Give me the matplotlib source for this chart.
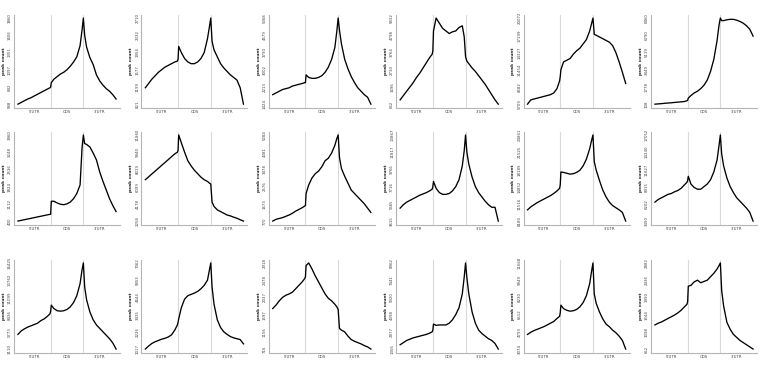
import numpy as np
import matplotlib
matplotlib.use("Agg")
import matplotlib.pyplot as plt

# relative position along the transcript (5'UTR 0-100, CDS 100-200, 3'UTR 200-300)
positions = [0, 10, 20, 30, 40, 50, 60, 70, 80, 90, 98, 100, 102, 110, 120, 130, 140,
             150, 160, 170, 180, 190, 196, 200, 204, 210, 220, 230, 240, 250, 260,
             270, 280, 290, 300]
regions = ["5'UTR", "CDS", "3'UTR"]
region_centers = [50, 150, 250]
region_bounds = [100, 200]

s01 = [588, 613, 639, 664, 683, 709, 734, 760, 785, 811, 830, 842, 906, 957, 995, 1033, 1059,
       1097, 1148, 1211, 1288, 1453, 1682, 1860, 1606, 1428, 1275, 1173, 1020, 931, 868,
       817, 779, 728, 664]
s02 = [1180, 1274, 1369, 1444, 1520, 1577, 1633, 1671, 1709, 1747, 1766, 1803, 2087, 1954, 1822,
       1747, 1709, 1709, 1747, 1822, 1954, 2257, 2521, 2710, 2200, 2011, 1860, 1709, 1614,
       1539, 1463, 1407, 1350, 1180, 821]
s03 = [1858, 1937, 2016, 2094, 2134, 2173, 2252, 2292, 2331, 2371, 2410, 2410, 2765, 2647, 2607,
       2607, 2647, 2726, 2883, 3120, 3475, 4027, 4776, 5368, 4816, 4185, 3475, 3041, 2686,
       2410, 2173, 2016, 1858, 1740, 1424]
s04 = [921, 1179, 1438, 1696, 1955, 2265, 2523, 2833, 3144, 3454, 3661, 3867, 5057, 5832, 5522,
       5212, 5057, 4901, 5005, 5057, 5263, 5367, 4695, 3506, 3247, 3092, 2833, 2627, 2368,
       2110, 1851, 1541, 1231, 921, 662]
s05 = [5709, 6427, 6571, 6714, 6858, 7002, 7145, 7289, 7576, 8294, 9587, 10305, 11454, 12747,
       13034, 13321, 14040, 14614, 15045, 15763, 16481, 17918, 19210, 20072, 17343, 17199,
       16912, 16625, 16338, 16050, 15476, 14327, 12747, 11023, 9156]
s06 = [108, 133, 158, 192, 217, 242, 275, 300, 334, 359, 442, 484, 693, 943, 1194, 1361, 1611,
       1945, 2447, 3282, 4451, 6288, 7792, 8460, 8209, 8209, 8293, 8335, 8335, 8251, 8126,
       7959, 7708, 7374, 6706]
s07 = [400, 428, 457, 485, 514, 542, 571, 599, 628, 656, 678, 685, 1219, 1219, 1148, 1094, 1076,
       1112, 1183, 1326, 1539, 1895, 3426, 3960, 3604, 3568, 3462, 3212, 2928, 2429, 2038,
       1682, 1326, 1041, 792]
s08 = [6867, 7184, 7510, 7827, 8144, 8470, 8787, 9104, 9431, 9748, 9940, 10132, 11860, 10996,
       9940, 8979, 8403, 7923, 7539, 7155, 6867, 6675, 6483, 6387, 4370, 3890, 3506, 3314,
       3122, 2930, 2834, 2690, 2575, 2402, 2258]
s09 = [770, 860, 905, 951, 1018, 1086, 1176, 1289, 1379, 1470, 1560, 1583, 2214, 2666, 3027,
       3253, 3388, 3614, 3930, 4065, 4336, 4742, 5103, 5284, 4110, 3524, 3117, 2756, 2395,
       2214, 2034, 1853, 1673, 1447, 1221]
s10 = [5153, 5563, 5870, 6075, 6281, 6486, 6691, 6844, 6998, 7203, 7408, 7716, 8331, 7511, 6998,
       6793, 6793, 6896, 7203, 7716, 8536, 10176, 12022, 13867, 11817, 10381, 8844, 7716,
       6998, 6486, 5973, 5563, 5255, 5255, 3615]
s11 = [10349, 10932, 11349, 11766, 12100, 12434, 12767, 13101, 13518, 14018, 14519, 15186,
       17688, 17605, 17438, 17271, 17355, 17605, 18022, 18856, 20190, 22192, 23860, 24861,
       19690, 18022, 16020, 14185, 12851, 11850, 11183, 10766, 10349, 9848, 8180]
s12 = [6474, 6881, 7152, 7423, 7694, 7830, 8101, 8305, 8644, 9186, 9593, 9864, 10542, 9322,
       8779, 8508, 8508, 8915, 9322, 10000, 11220, 13119, 15425, 17052, 14068, 12170, 10271,
       8915, 7965, 7152, 6609, 6067, 5524, 4846, 3490]
s13 = [5374, 5906, 6239, 6505, 6705, 6905, 7105, 7504, 7770, 8170, 8569, 8969, 9901, 9368, 9035,
       8969, 9035, 9235, 9634, 10300, 11365, 13229, 15360, 16425, 12697, 10700, 8835, 7637,
       6838, 6306, 5773, 5240, 4708, 4042, 3110]
s14 = [1017, 1229, 1410, 1531, 1622, 1712, 1773, 1863, 2014, 2347, 2710, 2891, 3133, 3919, 4523,
       4765, 4856, 4946, 5067, 5249, 5490, 5853, 6578, 7062, 5369, 4160, 3072, 2528, 2226,
       2045, 1894, 1803, 1742, 1682, 1380]
s15 = [1751, 1839, 1949, 2037, 2092, 2125, 2169, 2257, 2345, 2434, 2522, 2566, 2852, 2918, 2764,
       2588, 2434, 2279, 2125, 2015, 1949, 1861, 1795, 1729, 1244, 1200, 1156, 1046, 958,
       914, 881, 848, 804, 771, 716]
s16 = [1736, 1926, 2117, 2231, 2345, 2421, 2497, 2573, 2649, 2763, 2877, 3029, 3562, 3448, 3486,
       3486, 3486, 3638, 3942, 4398, 5007, 6224, 7745, 8962, 7669, 6224, 4627, 3638, 3029,
       2725, 2497, 2269, 2117, 1850, 1356]
s17 = [4535, 4750, 4922, 5051, 5180, 5308, 5480, 5652, 5824, 6125, 6340, 6683, 7457, 7113, 6941,
       6855, 6898, 7027, 7285, 7715, 8402, 9605, 10895, 11668, 8574, 7629, 6769, 6082, 5566,
       5308, 4965, 4707, 4363, 3933, 3074]
s18 = [1276, 1321, 1354, 1399, 1444, 1488, 1533, 1589, 1656, 1745, 1812, 1879, 2280, 2302, 2391,
       2436, 2369, 2403, 2436, 2525, 2614, 2726, 2815, 2882, 2168, 1767, 1343, 1165, 1031,
       953, 875, 819, 764, 708, 652]

series = [s01, s02, s03, s04, s05, s06,
          s07, s08, s09, s10, s11, s12,
          s13, s14, s15, s16, s17, s18]

W, H = 764, 372
fig = plt.figure(figsize=(W / 100, H / 100), dpi=100)
row_tops = [14.6, 131.5, 259.5]
ax_h = 93.0
ax_w = 106.0

for i, ys in enumerate(series):
    r, c = divmod(i, 6)
    left = 14 + 127.4 * c
    top = row_tops[r]
    ax = fig.add_axes([left / W, (H - top - ax_h) / H, ax_w / W, ax_h / H])
    for b in region_bounds:
        ax.axvline(b, color='#dadada', lw=0.8, zorder=0)
    ax.plot(positions, ys, color='black', lw=0.95, solid_joinstyle='round')
    lo, hi = min(ys), max(ys)
    pad = 0.04 * (hi - lo)
    ax.set_ylim(lo - pad, hi + pad)
    ax.set_xlim(-12, 312)
    ticks = np.linspace(lo, hi, 6)
    ax.set_yticks(ticks)
    ax.set_yticklabels([f"{t:.0f}" for t in ticks], rotation=90, va='center',
                       fontsize=2.8, color='#444444')
    ax.set_xticks(region_centers)
    ax.set_xticklabels(regions, fontsize=2.8, color='#444444')
    for s in ['top', 'right']:
        ax.spines[s].set_visible(False)
    for s in ['left', 'bottom']:
        ax.spines[s].set_color('#b5b5b5')
        ax.spines[s].set_linewidth(0.8)
    ax.tick_params(axis='both', length=0, pad=1.5)
    ax.set_ylabel('peak count', fontsize=3.2, fontweight='bold', labelpad=1.5,
                  color='#222222')

fig.savefig('out.png', dpi=100)
